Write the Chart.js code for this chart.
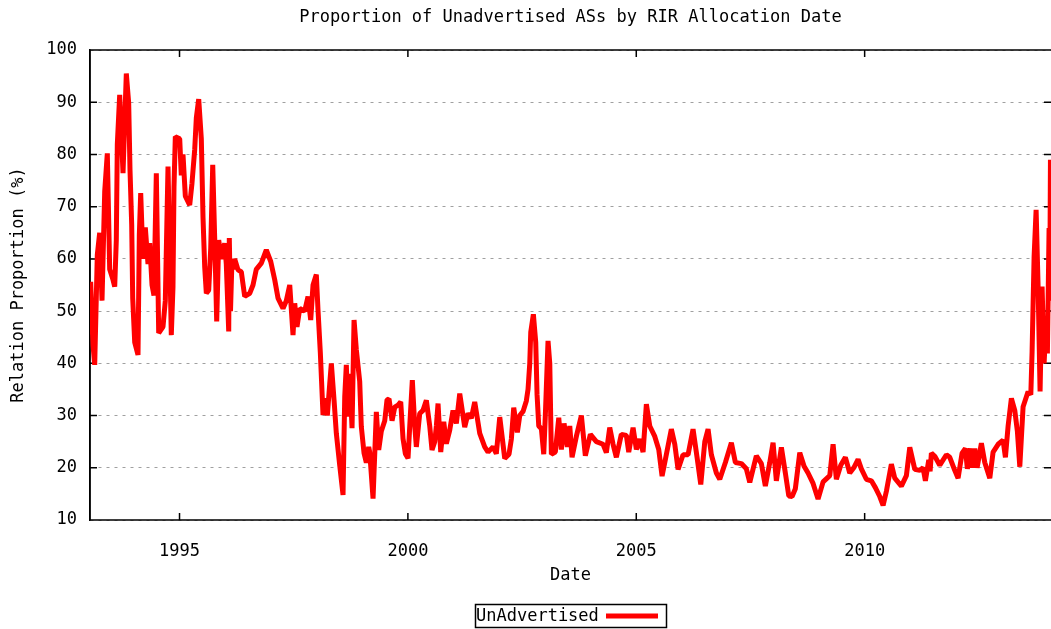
<!DOCTYPE html>
<html>
<head>
<meta charset="utf-8">
<title>Proportion of Unadvertised ASs by RIR Allocation Date</title>
<script src="https://cdn.jsdelivr.net/npm/chart.js@4.4.1/dist/chart.umd.min.js"></script>
<style>
  html, body { margin: 0; padding: 0; background: #fff; }
  #wrap { width: 1051px; height: 629px; }
</style>
</head>
<body>
<div id="wrap"><canvas id="rir-chart" width="1051" height="629"></canvas></div>
<script>
// allocation date (decimal year)
const dates = [
  1993.040, 1993.055, 1993.106, 1993.143, 1993.200, 1993.252, 1993.303, 1993.362, 1993.419, 1993.471, 1993.544, 1993.581, 1993.616, 1993.638, 1993.690, 1993.763, 1993.835, 1993.887, 1993.916, 1993.953, 1993.975,
  1994.019, 1994.091, 1994.120, 1994.150, 1994.200, 1994.251, 1994.310, 1994.347, 1994.398, 1994.441, 1994.492, 1994.544, 1994.638, 1994.689, 1994.748, 1994.820, 1994.857, 1994.879, 1994.908,
  1995.004, 1995.039, 1995.076, 1995.127, 1995.223, 1995.273, 1995.333, 1995.368, 1995.420, 1995.477, 1995.514, 1995.551, 1995.587, 1995.639, 1995.683, 1995.727, 1995.770, 1995.814, 1995.858, 1995.915, 1995.989,
  1996.024, 1996.077, 1996.090, 1996.116, 1996.149, 1996.171, 1996.208, 1996.281, 1996.353, 1996.427, 1996.537, 1996.609, 1996.681, 1996.791, 1996.900, 1996.997,
  1997.084, 1997.156, 1997.266, 1997.338, 1997.413, 1997.485, 1997.522, 1997.572, 1997.632, 1997.741, 1997.813, 1997.872, 1997.923, 1997.995,
  1998.032, 1998.083, 1998.142, 1998.192, 1998.236, 1998.288, 1998.324, 1998.383, 1998.433, 1998.507, 1998.580, 1998.617, 1998.652, 1998.689, 1998.726, 1998.777, 1998.821, 1998.871, 1998.945, 1998.980,
  1999.040, 1999.090, 1999.142, 1999.164, 1999.237, 1999.309, 1999.361, 1999.418, 1999.493, 1999.543, 1999.587, 1999.653, 1999.712, 1999.784, 1999.843, 1999.893, 1999.944,
  2000.003, 2000.053, 2000.097, 2000.150, 2000.185, 2000.259, 2000.331, 2000.404, 2000.478, 2000.528, 2000.588, 2000.623, 2000.660, 2000.719, 2000.785, 2000.842, 2000.916, 2000.988,
  2001.061, 2001.135, 2001.244, 2001.317, 2001.389, 2001.463, 2001.573, 2001.682, 2001.755, 2001.864, 2001.936,
  2002.011, 2002.120, 2002.214, 2002.265, 2002.317, 2002.396, 2002.449, 2002.521, 2002.593, 2002.630, 2002.668, 2002.690, 2002.747, 2002.799, 2002.828, 2002.865, 2002.922, 2002.974,
  2003.009, 2003.068, 2003.106, 2003.141, 2003.228, 2003.303, 2003.360, 2003.419, 2003.491, 2003.544, 2003.594, 2003.688, 2003.798, 2003.885, 2003.995,
  2004.126, 2004.273, 2004.345, 2004.419, 2004.492, 2004.564, 2004.673, 2004.783, 2004.835, 2004.930,
  2005.002, 2005.076, 2005.149, 2005.221, 2005.295, 2005.405, 2005.492, 2005.565, 2005.637, 2005.768, 2005.843, 2005.915,
  2006.024, 2006.134, 2006.243, 2006.331, 2006.412, 2006.500, 2006.572, 2006.644, 2006.754, 2006.828, 2006.951,
  2007.082, 2007.170, 2007.301, 2007.410, 2007.485, 2007.629, 2007.739, 2007.826, 2007.923, 2007.995,
  2008.067, 2008.177, 2008.264, 2008.339, 2008.411, 2008.483, 2008.580, 2008.674, 2008.761, 2008.871, 2008.980,
  2009.090, 2009.237, 2009.309, 2009.381, 2009.477, 2009.578, 2009.674, 2009.762, 2009.856, 2009.928,
  2010.038, 2010.147, 2010.235, 2010.331, 2010.404, 2010.476, 2010.585, 2010.660, 2010.804, 2010.914, 2010.988,
  2011.098, 2011.207, 2011.279, 2011.330, 2011.404, 2011.433, 2011.461, 2011.536, 2011.645, 2011.790, 2011.864, 2011.973,
  2012.046, 2012.133, 2012.206, 2012.249, 2012.315, 2012.359, 2012.411, 2012.462, 2012.556, 2012.630, 2012.740, 2012.812, 2012.922,
  2013.031, 2013.082, 2013.141, 2013.213, 2013.287, 2013.344, 2013.397, 2013.469, 2013.579, 2013.638, 2013.666, 2013.710, 2013.754, 2013.797, 2013.841, 2013.885, 2013.929, 2013.973,
  2014.001, 2014.038, 2014.052, 2014.068
];

// proportion of unadvertised ASs (%), same order as dates
const unadvertised = [
  46, 55.6, 43.5, 39.7, 60.8, 65, 52, 72.9, 80.2, 58, 56, 54.7, 63.6, 82, 91.4, 76.4, 95.5, 89.8, 77, 66.5, 52.5,
  44, 41.6, 64.6, 72.6, 60, 66, 59, 63, 55, 53, 76.4, 45.8, 47, 52, 77.7, 45.4, 54.7, 73.8, 83.4,
  83, 76, 80, 72, 70.3, 74.5, 81, 87, 90.6, 83, 68, 58.5, 53.4, 54, 62, 78, 64, 48, 63.6, 60, 63,
  59, 46.1, 64, 50, 60, 58, 60, 57.9, 57.5, 52.8, 53.4, 55, 58, 59.2, 61.7, 59.5,
  56, 52.5, 50.5, 52, 55, 45.4, 51.5, 47, 50.5, 50, 52.8, 48.3, 55, 57,
  50.2, 42, 30.1, 33.3, 30, 36, 40, 33, 26.6, 20.5, 14.8, 33.6, 39.7, 29.8, 38, 27.6, 48.3, 42.6, 36.5, 27.9,
  22.8, 21, 24, 23, 14.1, 30.7, 23.4, 27, 29, 33, 33.2, 29, 31.6, 32, 32.6, 25.6, 22.7,
  21.8, 30, 36.8, 28, 24, 30.4, 31, 32.9, 28, 23.4, 25, 28, 32.3, 23, 28.8, 24.6, 27.2, 31,
  28.5, 34.2, 27.8, 30.4, 29.5, 32.6, 26.6, 24, 23, 24, 22.7,
  29.7, 21.8, 22.6, 25.5, 31.5, 26.8, 30, 30.8, 32.8, 35, 40, 46, 49.4, 44, 34, 28, 27.5, 22.6,
  30, 44.3, 40, 22.6, 23, 29.6, 23.5, 28.5, 24, 28, 22, 26, 30, 22.3, 26.4,
  25, 24.5, 22.9, 27.7, 24.5, 22, 26.4, 26.2, 23, 27.7,
  23.5, 25.5, 23, 32.2, 28, 26, 23.5, 18.4, 21.6, 27.4, 24.5, 19.7,
  22.5, 22.5, 27.4, 22, 16.8, 25, 27.4, 22.5, 19, 17.8, 21,
  24.8, 21, 20.8, 19.8, 17.2, 22.3, 20.8, 16.5, 21, 24.8,
  17.5, 23.9, 19, 14.6, 14.5, 16, 22.9, 20.3, 19, 17, 14,
  17.3, 18.5, 24.5, 17.8, 20.5, 22, 19, 20, 21.6, 19.8,
  17.8, 17.5, 16.2, 14.5, 12.8, 15.5, 20.7, 18, 16.5, 18.5, 23.9,
  19.7, 19.5, 20, 17.5, 21.5, 19.3, 22.8, 22.2, 20.5, 22.5, 22, 19.5,
  18, 22.8, 23.7, 19.8, 23.7, 20, 23.7, 20, 24.7, 21, 18, 23, 24.5,
  25.3, 22, 28, 33.3, 31, 27, 20.2, 31.7, 34.6, 34, 42.2, 60.4, 69.4, 55, 34.6, 54.7, 40, 48,
  41.9, 65.9, 52, 79
];

const yearTicks = [1995, 2000, 2005, 2010];
const xRange = [1993.04, 2014.08];
const yRange = [10, 100];

const monoFont = "'DejaVu Sans Mono', 'Liberation Mono', monospace";
Chart.defaults.font.family = monoFont;
Chart.defaults.font.size = 17;
Chart.defaults.color = '#000';

/*gnuplot style frame, inward ticks and boxed legend*/
const gnuplotLook = {
    id: 'gnuplotLook',
    beforeDatasetsDraw(chart) {
        const {ctx, chartArea: a, scales} = chart;
        ctx.save();
        ctx.strokeStyle = '#000';
        ctx.lineWidth = 1.5;
        ctx.beginPath();
        // right side of the box falls just past the canvas edge
        ctx.moveTo(a.right, a.top);
        ctx.lineTo(a.left, a.top);
        ctx.lineTo(a.left, a.bottom);
        ctx.lineTo(a.right, a.bottom);
        scales.x.ticks.forEach(function (t) {
            const px = scales.x.getPixelForValue(t.value);
            ctx.moveTo(px, a.bottom);
            ctx.lineTo(px, a.bottom - 7);
            ctx.moveTo(px, a.top);
            ctx.lineTo(px, a.top + 7);
        });
        scales.y.ticks.forEach(function (t) {
            const py = scales.y.getPixelForValue(t.value);
            ctx.moveTo(a.left, py);
            ctx.lineTo(a.left + 7, py);
            ctx.moveTo(a.right, py);
            ctx.lineTo(a.right - 7, py);
        });
        ctx.stroke();
        ctx.restore();
    },
    afterDraw(chart) {
        const {ctx, chartArea: a} = chart;
        const ds = chart.data.datasets[0];
        const w = 191, h = 23;
        const x0 = Math.round((a.left + a.right) / 2 - w / 2);
        const y0 = chart.height - h - 2;
        ctx.save();
        ctx.strokeStyle = '#000';
        ctx.lineWidth = 1.5;
        ctx.strokeRect(x0 + 0.5, y0 + 0.5, w, h);
        ctx.fillStyle = '#000';
        ctx.font = '17px ' + monoFont;
        ctx.textBaseline = 'middle';
        ctx.fillText(ds.label, x0 + 1, y0 + h / 2 + 1);
        ctx.strokeStyle = ds.borderColor;
        ctx.lineWidth = ds.borderWidth;
        ctx.beginPath();
        ctx.moveTo(x0 + 131, y0 + h / 2 + 0.5);
        ctx.lineTo(x0 + 183, y0 + h / 2 + 0.5);
        ctx.stroke();
        ctx.restore();
    }
};

const ctxEl = document.getElementById('rir-chart');
const rirChart = new Chart(ctxEl, {
    type: 'line',
    data: {
        datasets: [{
            label: 'UnAdvertised',
            data: dates.map(function (d, i) { return {x: d, y: unadvertised[i]}; }),
            borderColor: '#ff0000',
            borderWidth: 5,
            borderJoinStyle: 'bevel',
            pointRadius: 0,
            tension: 0,
            fill: false
        }]
    },
    plugins: [gnuplotLook],
    options: {
        responsive: false,
        animation: false,
        layout: { padding: 0 },
        plugins: {
            legend: { display: false },
            tooltip: { enabled: false },
            title: {
                display: true,
                fullSize: false,
                text: 'Proportion of Unadvertised ASs by RIR Allocation Date',
                font: { size: 17, weight: 'normal', lineHeight: 1.2 },
                color: '#000',
                padding: { top: 7, bottom: 22.6 }
            }
        },
        scales: {
            x: {
                type: 'linear',
                min: xRange[0],
                max: xRange[1],
                afterBuildTicks: function (axis) {
                    axis.ticks = yearTicks.map(function (v) { return {value: v}; });
                },
                afterFit: function (axis) { axis.height = 109; },
                ticks: {
                    padding: 13,
                    maxRotation: 0,
                    callback: function (v) { return String(v); }
                },
                grid: { display: false },
                border: { display: false },
                title: {
                    display: true,
                    text: 'Date',
                    font: { size: 17, lineHeight: 1.2 },
                    padding: { top: 0, bottom: 43 }
                }
            },
            y: {
                min: yRange[0],
                max: yRange[1],
                afterFit: function (axis) { axis.width = 90; },
                ticks: { stepSize: 10, padding: 13 },
                grid: { color: '#a0a0a0', lineWidth: 1, drawTicks: false },
                border: { display: true, color: '#000', width: 1.5, dash: [3, 5] },
                title: {
                    display: true,
                    text: 'Relation Proportion (%)',
                    font: { size: 17, lineHeight: 1.2 },
                    padding: { top: 8, bottom: 0 }
                }
            }
        }
    }
});
</script>
</body>
</html>
